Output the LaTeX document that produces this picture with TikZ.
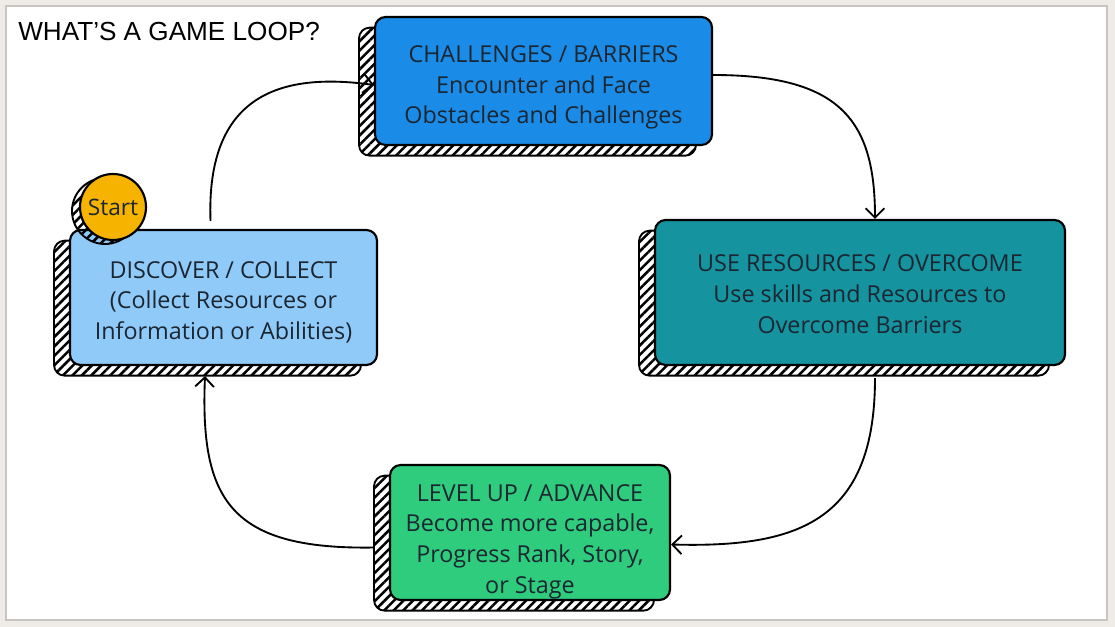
\documentclass[tikz,border=0pt]{standalone}
\usepackage{fontspec}
\setmainfont{Open Sans}
\newfontfamily\titlefont{Liberation Sans}
\usetikzlibrary{arrows.meta,patterns.meta,shadows}
\definecolor{framebg}{HTML}{EFEBE7}
\definecolor{framegray}{HTML}{C8C4C0}
\definecolor{chblue}{HTML}{1A8BE6}
\definecolor{urteal}{HTML}{15939F}
\definecolor{dclight}{HTML}{90CAF9}
\definecolor{lvgreen}{HTML}{2FCC7E}
\definecolor{startorange}{HTML}{F6B300}
\definecolor{ink}{HTML}{1B2631}
\newcommand\bxtext[2]{\raisebox{-#1}[\height][\depth]{\begin{tabular}{@{}c@{}}#2\end{tabular}}}
\tikzset{
  hatch/.style={preaction={fill=white},pattern={Lines[angle=45,distance=5pt,line width=1.9pt]},draw=black,line width=1.4pt},
  loopbox/.style={draw=black,line width=1.6pt,rounded corners=8pt,align=center,text=ink,
    font=\fontsize{17.5}{23}\selectfont,inner sep=0pt,
    general shadow={hatch,shadow xshift=-12pt,shadow yshift=-8pt}},
  startbox/.style={circle,draw=black,line width=1.6pt,fill=startorange,text=ink,
    font=\fontsize{17}{20}\selectfont,inner sep=0pt,minimum size={66*0.75pt},
    general shadow={hatch,shadow xshift=-6pt,shadow yshift=-3pt}},
  arr/.style={line width=1.4pt,-{Straight Barb[length=7pt,width=14pt,line width=1.4pt]}},
  titlestyle/.style={font=\titlefont\fontsize{19.6}{23}\selectfont,anchor=west,inner sep=0pt}
}
\begin{document}
\begin{tikzpicture}[x=0.75pt,y=-0.75pt]
\useasboundingbox (0,0) rectangle (1115,627);
\fill[framebg] (0,0) rectangle (1115,627);
\draw[fill=white,draw=framegray,line width=1pt] (6,6) rectangle (1107,620);
\node[titlestyle] (title) at (18,32) {WHAT’S A GAME LOOP?};
\node[loopbox,fill=chblue,minimum width={337*0.75pt},minimum height={128*0.75pt}] (ch) at (543.5,81)
  {\bxtext{4.5pt}{CHALLENGES / BARRIERS\\Encounter and Face\\Obstacles and Challenges}};
\node[loopbox,fill=urteal,minimum width={410*0.75pt},minimum height={145*0.75pt}] (ur) at (860,292.5)
  {\bxtext{3pt}{USE RESOURCES / OVERCOME\\Use skills and Resources to\\Overcome Barriers}};
\node[loopbox,fill=dclight,minimum width={307*0.75pt},minimum height={135*0.75pt}] (dc) at (223.5,297.5)
  {\bxtext{4pt}{DISCOVER / COLLECT\\(Collect Resources or\\Information or Abilities)}};
\node[loopbox,fill=lvgreen,minimum width={280*0.75pt},minimum height={135*0.75pt}] (lv) at (530,532.5)
  {\bxtext{6.5pt}{LEVEL UP / ADVANCE\\Become more capable,\\Progress Rank, Story,\\or Stage}};
\node[startbox] (start) at (113,207) {Start};
\draw[arr] ([xshift={-13*0.75pt},yshift={8*0.75pt}]dc.north) .. controls (206,95) and (280,72) .. ([yshift={-4*0.75pt}]ch.west);
\draw[arr] ([yshift={6*0.75pt}]ch.east) .. controls (840,75) and (875,120) .. ([xshift={15*0.75pt}]ur.north);
\draw[arr] ([xshift={15*0.75pt},yshift={-12*0.75pt}]ur.south) .. controls (875,520) and (800,548) .. ([yshift={-12*0.75pt}]lv.east);
\draw[arr] ([xshift={-14*0.75pt},yshift={-15*0.75pt}]lv.west) .. controls (230,550) and (200,500) .. ([xshift={-18.5*0.75pt},yshift={-10*0.75pt}]dc.south);
\end{tikzpicture}
\end{document}
